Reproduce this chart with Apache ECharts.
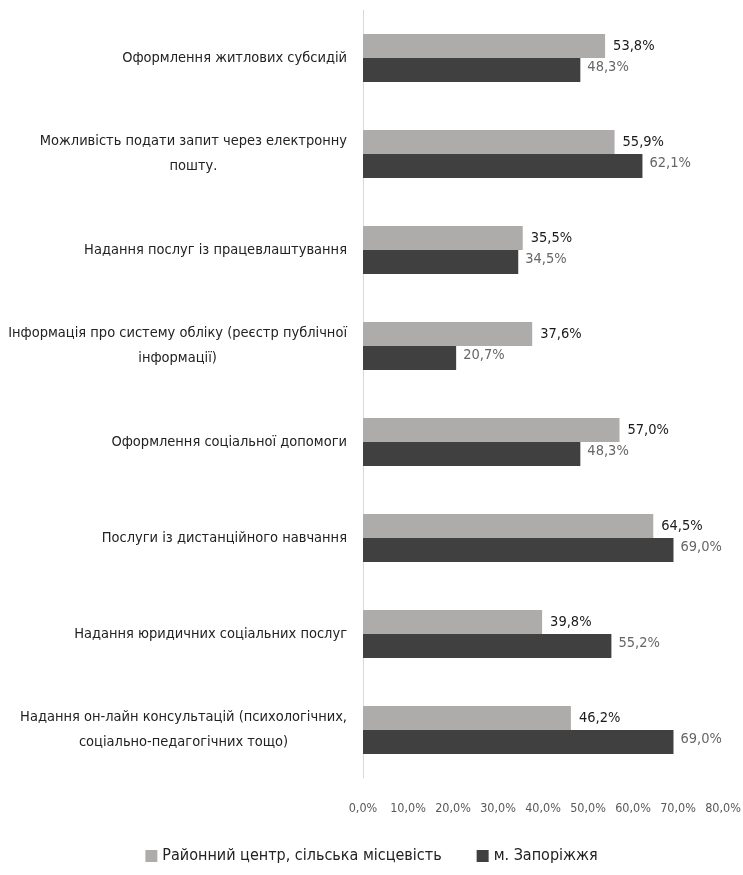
<!DOCTYPE html>
<html>
<head>
<meta charset="utf-8">
<script src="https://cdn.jsdelivr.net/npm/echarts@6/dist/echarts.min.js"></script>
<style>
  html, body { margin: 0; padding: 0; background: #fff; }
  #chart { width: 743px; height: 875px; }
</style>
</head>
<body>
<div id="chart"></div>
<script>
const categories = [
  'Оформлення житлових субсидій',
  'Можливість подати запит через електронну\nпошту.',
  'Надання послуг із працевлаштування',
  'Інформація про систему обліку (реєстр публічної\nінформації)',
  'Оформлення соціальної допомоги',
  'Послуги із дистанційного навчання',
  'Надання юридичних соціальних послуг',
  'Надання он-лайн консультацій (психологічних,\nсоціально-педагогічних тощо)'
]
const seriesNames = ['Районний центр, сільська місцевість', 'м. Запоріжжя']
const districtValues = [53.8, 55.9, 35.5, 37.6, 57.0, 64.5, 39.8, 46.2]
const cityValues = [48.3, 62.1, 34.5, 20.7, 48.3, 69.0, 55.2, 69.0]

const font = '"DejaVu Sans Condensed", "Liberation Sans Narrow", sans-serif'
const pct = v => v.toFixed(1).replace('.', ',') + '%'

const chart = echarts.init(document.getElementById('chart'))
chart.setOption({
  backgroundColor: '#ffffff',
  animation: false,
  textStyle: { fontFamily: font },
  grid: { left: 363, right: 20, top: 10, bottom: 97, containLabel: false, outerBoundsMode: 'none' },
  legend: {
    bottom: 6,
    left: 'center',
    itemWidth: 12,
    itemHeight: 12,
    itemGap: 35,
    icon: 'rect',
    textStyle: { fontFamily: font, fontSize: 16, color: '#222' },
    data: seriesNames
  },
  xAxis: {
    type: 'value',
    min: 0,
    max: 80,
    interval: 10,
    axisLine: { show: false },
    axisTick: { show: false },
    splitLine: { show: false },
    axisLabel: {
      margin: 24,
      fontFamily: font,
      fontSize: 12.5,
      color: '#595959',
      formatter: v => pct(v)
    }
  },
  yAxis: {
    type: 'category',
    inverse: true,
    data: categories,
    axisLine: { show: true, lineStyle: { color: '#d9d9d9', width: 1 } },
    axisTick: { show: false },
    axisLabel: {
      margin: 16,
      fontFamily: font,
      fontSize: 14.5,
      color: '#222',
      lineHeight: 25,
      formatter: v => v.split('\n').map(l => '{c|' + l + '}').join('\n'),
      rich: { c: { align: 'center', fontFamily: font, fontSize: 14.5, color: '#222', lineHeight: 25 } }
    }
  },
  series: [
    {
      name: seriesNames[0],
      type: 'bar',
      data: districtValues,
      barWidth: 24,
      barGap: '0%',
      itemStyle: { color: '#aeabab' },
      label: {
        show: true,
        position: 'right',
        distance: 8,
        fontFamily: font,
        fontSize: 14.5,
        color: '#1a1a1a',
        formatter: p => pct(p.value)
      }
    },
    {
      name: seriesNames[1],
      type: 'bar',
      data: cityValues,
      barWidth: 24,
      itemStyle: { color: '#404040' },
      label: {
        show: true,
        position: 'right',
        distance: 7,
        offset: [0, -3],
        fontFamily: font,
        fontSize: 14.5,
        color: '#666',
        formatter: p => pct(p.value)
      }
    }
  ]
})
window.onresize = function () {
  chart.resize()
}
</script>
</body>
</html>
